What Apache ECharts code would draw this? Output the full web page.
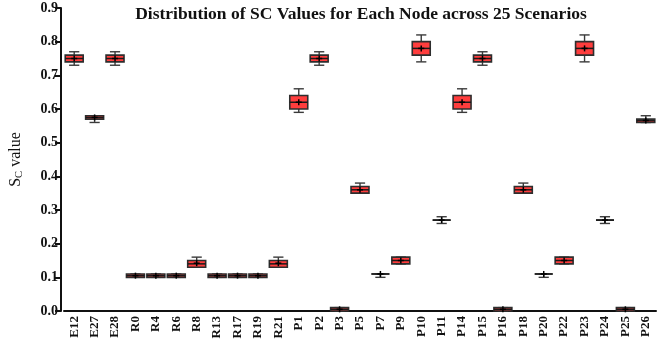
<!DOCTYPE html>
<html>
<head>
<meta charset="utf-8">
<script src="https://cdn.jsdelivr.net/npm/echarts@6/dist/echarts.min.js"></script>
<style>
html,body{margin:0;padding:0;background:#fff;}
#main{width:664px;height:345px;}
</style>
</head>
<body>
<div id="main"></div>
<script>
var categories = ['E12','E27','E28','R0','R4','R6','R8','R13','R17','R19','R21','P1','P2','P3','P5','P7','P9','P10','P11','P14','P15','P16','P18','P20','P22','P23','P24','P25','P26'];
var minVals  = [0.73,0.56,0.73,0.10,0.10,0.10,0.13,0.10,0.10,0.10,0.13,0.59,0.73,0.000,0.35,0.10,0.14,0.74,0.26,0.59,0.73,0.000,0.35,0.10,0.14,0.74,0.26,0.000,0.56];
var q1Vals   = [0.74,0.57,0.74,0.10,0.10,0.10,0.13,0.10,0.10,0.10,0.13,0.60,0.74,0.000,0.35,0.11,0.14,0.76,0.27,0.60,0.74,0.000,0.35,0.11,0.14,0.76,0.27,0.000,0.56];
var medVals  = [0.75,0.575,0.75,0.105,0.105,0.105,0.14,0.105,0.105,0.105,0.14,0.62,0.75,0.005,0.36,0.11,0.15,0.78,0.27,0.62,0.75,0.005,0.36,0.11,0.15,0.78,0.27,0.005,0.565];
var q3Vals   = [0.76,0.58,0.76,0.11,0.11,0.11,0.15,0.11,0.11,0.11,0.15,0.64,0.76,0.010,0.37,0.11,0.16,0.80,0.27,0.64,0.76,0.010,0.37,0.11,0.16,0.80,0.27,0.010,0.57];
var maxVals  = [0.77,0.58,0.77,0.11,0.11,0.11,0.16,0.11,0.11,0.11,0.16,0.66,0.77,0.010,0.38,0.11,0.16,0.82,0.28,0.66,0.77,0.010,0.38,0.11,0.16,0.82,0.28,0.010,0.58];
var meanVals = [0.75,0.575,0.75,0.105,0.105,0.105,0.142,0.105,0.105,0.105,0.142,0.62,0.75,0.005,0.36,0.11,0.15,0.78,0.27,0.62,0.75,0.005,0.36,0.11,0.15,0.78,0.27,0.005,0.566];
var yTicks = [0,0.1,0.2,0.3,0.4,0.5,0.6,0.7,0.8,0.9];

var data = categories.map(function(c,i){
  return [i, minVals[i], q1Vals[i], medVals[i], q3Vals[i], maxVals[i], meanVals[i]];
});

var serif = '"Liberation Serif", "Times New Roman", serif';
var chart = echarts.init(document.getElementById('main'), null, {renderer:'canvas'});

function renderItem(params, api){
  var x = api.value(0);
  var pMin = api.coord([x, api.value(1)]);
  var pQ1 = api.coord([x, api.value(2)]);
  var pMed = api.coord([x, api.value(3)]);
  var pQ3 = api.coord([x, api.value(4)]);
  var pMax = api.coord([x, api.value(5)]);
  var pMean = api.coord([x, api.value(6)]);
  var bw = api.size([1,0])[0];
  var boxW = bw*0.88, capW = bw*0.5;
  var cx = pMin[0];
  var wStyle = {stroke:'#3a3a3a', lineWidth:1.4, fill:null};
  var children = [];
  children.push({type:'line', shape:{x1:cx,y1:pMax[1],x2:cx,y2:pQ3[1]}, style:wStyle});
  children.push({type:'line', shape:{x1:cx,y1:pQ1[1],x2:cx,y2:pMin[1]}, style:wStyle});
  children.push({type:'line', shape:{x1:cx-capW/2,y1:pMax[1],x2:cx+capW/2,y2:pMax[1]}, style:wStyle});
  children.push({type:'line', shape:{x1:cx-capW/2,y1:pMin[1],x2:cx+capW/2,y2:pMin[1]}, style:wStyle});
  children.push({type:'rect', shape:{x:cx-boxW/2, y:pQ3[1], width:boxW, height:pQ1[1]-pQ3[1]},
    style:{fill:'#ff3d3d', stroke:'#2e2e2e', lineWidth:1.6}});
  children.push({type:'line', shape:{x1:cx-boxW/2,y1:pMed[1],x2:cx+boxW/2,y2:pMed[1]}, style:{stroke:'#1a1a1a', lineWidth:1.5}});
  children.push({type:'line', shape:{x1:cx-3,y1:pMean[1],x2:cx+3,y2:pMean[1]}, style:{stroke:'#000', lineWidth:1.5}});
  children.push({type:'line', shape:{x1:cx,y1:pMean[1]-3,x2:cx,y2:pMean[1]+3}, style:{stroke:'#000', lineWidth:1.5}});
  return {type:'group', children:children};
}

chart.setOption({
  animation:false,
  backgroundColor:'#fff',
  title:{
    text:'Distribution of SC Values for Each Node across 25 Scenarios',
    left:356, top:0, textAlign:'center',
    textStyle:{fontFamily:serif, fontWeight:'bold', fontSize:17.5, color:'#111'}
  },
  grid:{left:56, right:8, top:8, bottom:34},
  xAxis:{
    type:'category', data:categories, boundaryGap:true,
    axisLine:{lineStyle:{color:'#111', width:2}},
    axisTick:{alignWithLabel:true, length:6, lineStyle:{color:'#111', width:2}},
    axisLabel:{rotate:90, interval:0, margin:5, fontFamily:serif, fontWeight:'bold', fontSize:13, color:'#111'},
    splitLine:{show:false}
  },
  yAxis:{
    type:'value', min:0, max:0.9, interval:0.1, offset:3,
    name:'{s|S}{sub|C}{s| value}', nameLocation:'middle', nameGap:36,
    nameTextStyle:{rich:{
      s:{fontFamily:serif, fontSize:16, color:'#111'},
      sub:{fontFamily:serif, fontSize:10.5, color:'#111', verticalAlign:'bottom', padding:[7,0,0,0]}
    }},
    axisLine:{show:true, lineStyle:{color:'#111', width:2}},
    axisTick:{show:true, length:6, lineStyle:{color:'#111', width:2}},
    axisLabel:{margin:3, fontFamily:serif, fontWeight:'bold', fontSize:14, color:'#111',
      formatter:function(v){return v.toFixed(1);}},
    splitLine:{show:false}
  },
  series:[{
    type:'custom', renderItem:renderItem, data:data,
    encode:{x:0, y:[1,2,3,4,5]}, clip:false
  }]
});
</script>
</body>
</html>
